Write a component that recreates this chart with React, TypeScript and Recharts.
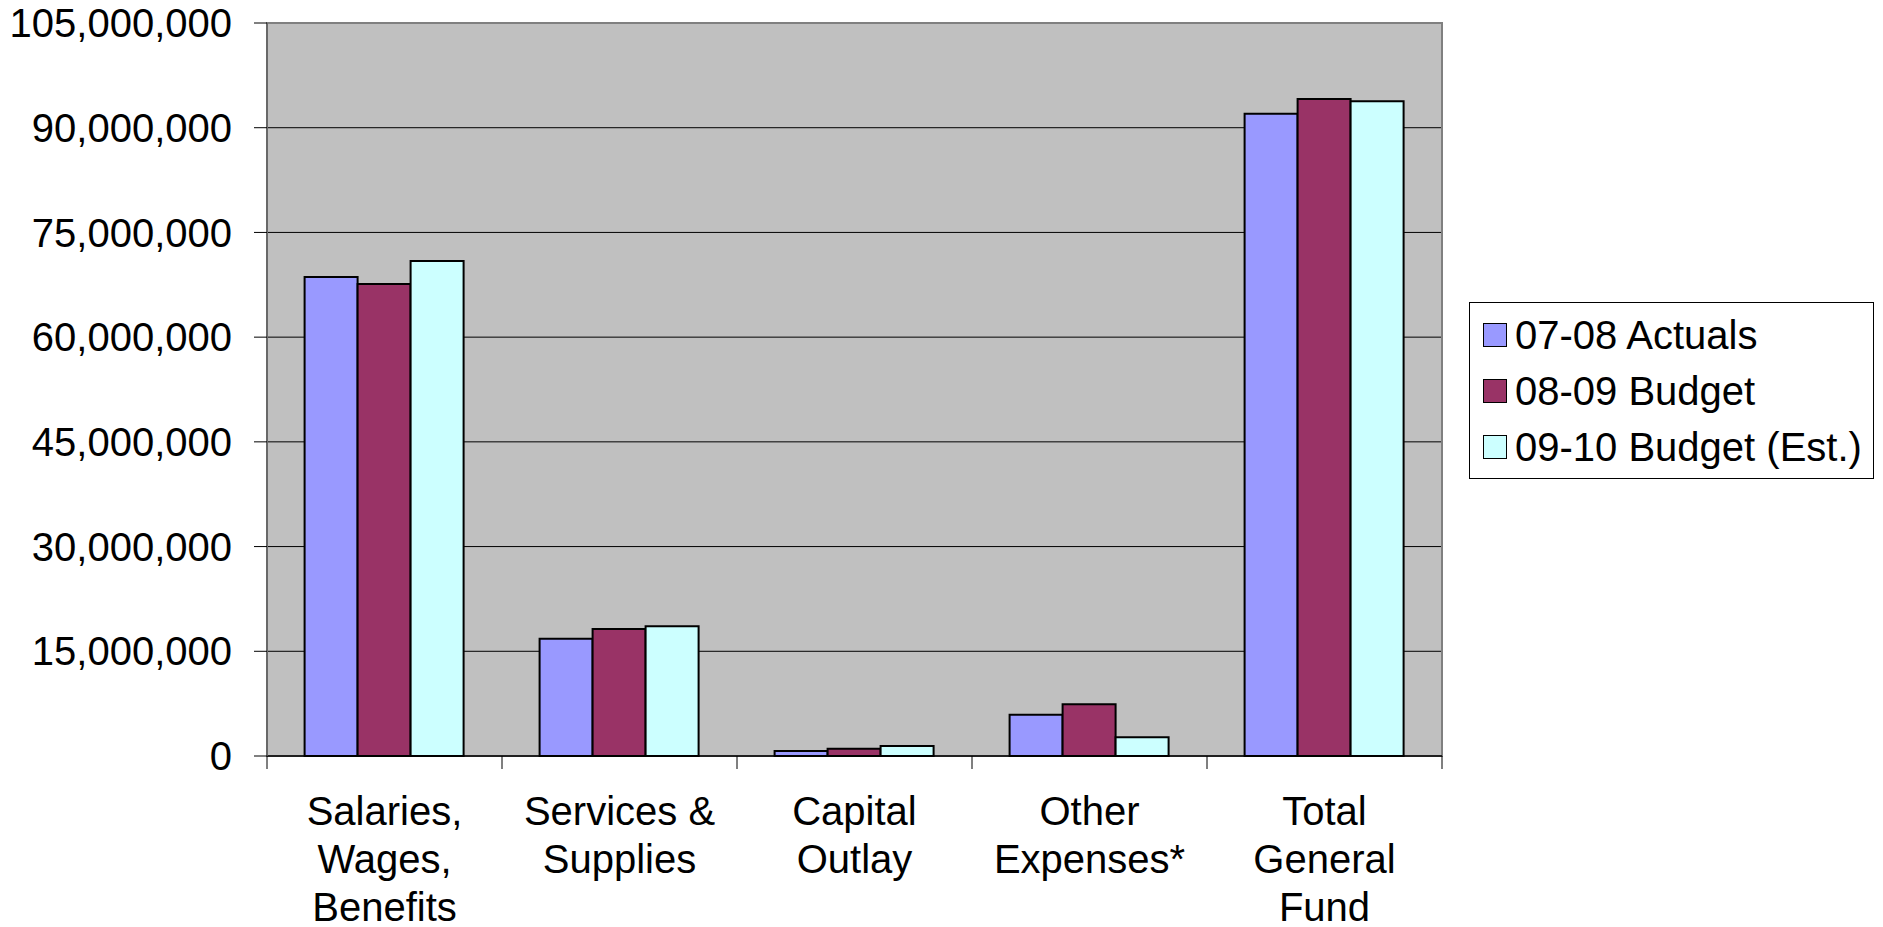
import { BarChart, Bar, XAxis, YAxis, CartesianGrid, Legend, ReferenceArea } from 'recharts';

const categories = [
  'Salaries,\nWages,\nBenefits',
  'Services &\nSupplies',
  'Capital\nOutlay',
  'Other\nExpenses*',
  'Total\nGeneral\nFund',
];

const actuals0708 = [68600000, 16800000, 700000, 5900000, 92000000];
const budget0809 = [67600000, 18200000, 1050000, 7400000, 94100000];
const budget0910 = [70900000, 18600000, 1450000, 2700000, 93800000];

const seriesNames = ['07-08 Actuals', '08-09 Budget', '09-10 Budget (Est.)'];
const seriesKeys = ['a', 'b', 'c'];
const COLORS = ['#9999FF', '#993366', '#CCFFFF'];

const yTicks = [0, 15000000, 30000000, 45000000, 60000000, 75000000, 90000000, 105000000];

const data = categories.map((name, i) => ({
  name,
  a: actuals0708[i],
  b: budget0809[i],
  c: budget0910[i],
}));

const FONT = '"Liberation Sans", Arial, sans-serif';
const BAND = 235;

const CategoryTick = (props: any) => {
  const { x, y, payload, index } = props;
  const lines = String(payload.value).split('\n');
  return (
    <g>
      <line x1={x - BAND / 2} y1={y} x2={x - BAND / 2} y2={y + 13} stroke="#000" strokeWidth={1} />
      {index === categories.length - 1 && (
        <line x1={x + BAND / 2} y1={y} x2={x + BAND / 2} y2={y + 13} stroke="#000" strokeWidth={1} />
      )}
      <text x={x} y={y + 69} textAnchor="middle" fontSize={40} fontFamily={FONT} fill="#000">
        {lines.map((l, i) => (
          <tspan key={i} x={x} dy={i === 0 ? 0 : 48}>
            {l}
          </tspan>
        ))}
      </text>
    </g>
  );
};

const LegendBox = () => (
  <div
    style={{
      border: '1px solid #000',
      background: '#fff',
      width: 405,
      height: 177,
      boxSizing: 'border-box',
      paddingTop: 4,
      paddingLeft: 13,
      fontFamily: FONT,
      fontSize: 40,
      color: '#000',
    }}
  >
    {seriesNames.map((n, i) => (
      <div key={n} style={{ display: 'flex', alignItems: 'center', height: 56 }}>
        <span
          style={{
            display: 'inline-block',
            width: 24,
            height: 24,
            background: COLORS[i],
            border: '1.5px solid #000',
            boxSizing: 'border-box',
            marginRight: 8,
          }}
        />
        <span style={{ lineHeight: '56px', whiteSpace: 'nowrap' }}>{n}</span>
      </div>
    ))}
  </div>
);

export default function App() {
  return (
    <div style={{ position: 'absolute', left: 0, top: 0, background: '#fff' }}>
      <BarChart
        width={1883}
        height={927}
        data={data}
        margin={{ top: 23, right: 441, bottom: 0, left: 0 }}
        barCategoryGap="16%"
        barGap={0}
      >
        <CartesianGrid vertical={false} stroke="#000" strokeWidth={1} fill="#C0C0C0" fillOpacity={1} />
        <XAxis
          dataKey="name"
          height={171}
          axisLine={{ stroke: '#000', strokeWidth: 1.5 }}
          tickLine={false}
          tickSize={0}
          tickMargin={0}
          interval={0}
          tick={<CategoryTick />}
        />
        <YAxis
          width={267}
          domain={[0, 105000000]}
          ticks={yTicks}
          interval={0}
          axisLine={{ stroke: '#606060', strokeWidth: 1.5 }}
          tickLine={{ stroke: '#000', strokeWidth: 1 }}
          tickSize={13}
          tickMargin={22}
          tick={{ fontSize: 40, fontFamily: FONT, fill: '#000' }}
          tickFormatter={(v: number) => v.toLocaleString('en-US')}
        />
        <ReferenceArea y1={0} y2={105000000} fill="none" stroke="#808080" strokeWidth={2} />
        {seriesKeys.map((k, i) => (
          <Bar
            key={k}
            dataKey={k}
            name={seriesNames[i]}
            fill={COLORS[i]}
            stroke="#000"
            strokeWidth={2}
            isAnimationActive={false}
          />
        ))}
        <Legend
          layout="vertical"
          verticalAlign="middle"
          align="center"
          wrapperStyle={{ position: 'absolute', left: 1469, top: 302, width: 405 }}
          content={() => <LegendBox />}
        />
      </BarChart>
    </div>
  );
}
